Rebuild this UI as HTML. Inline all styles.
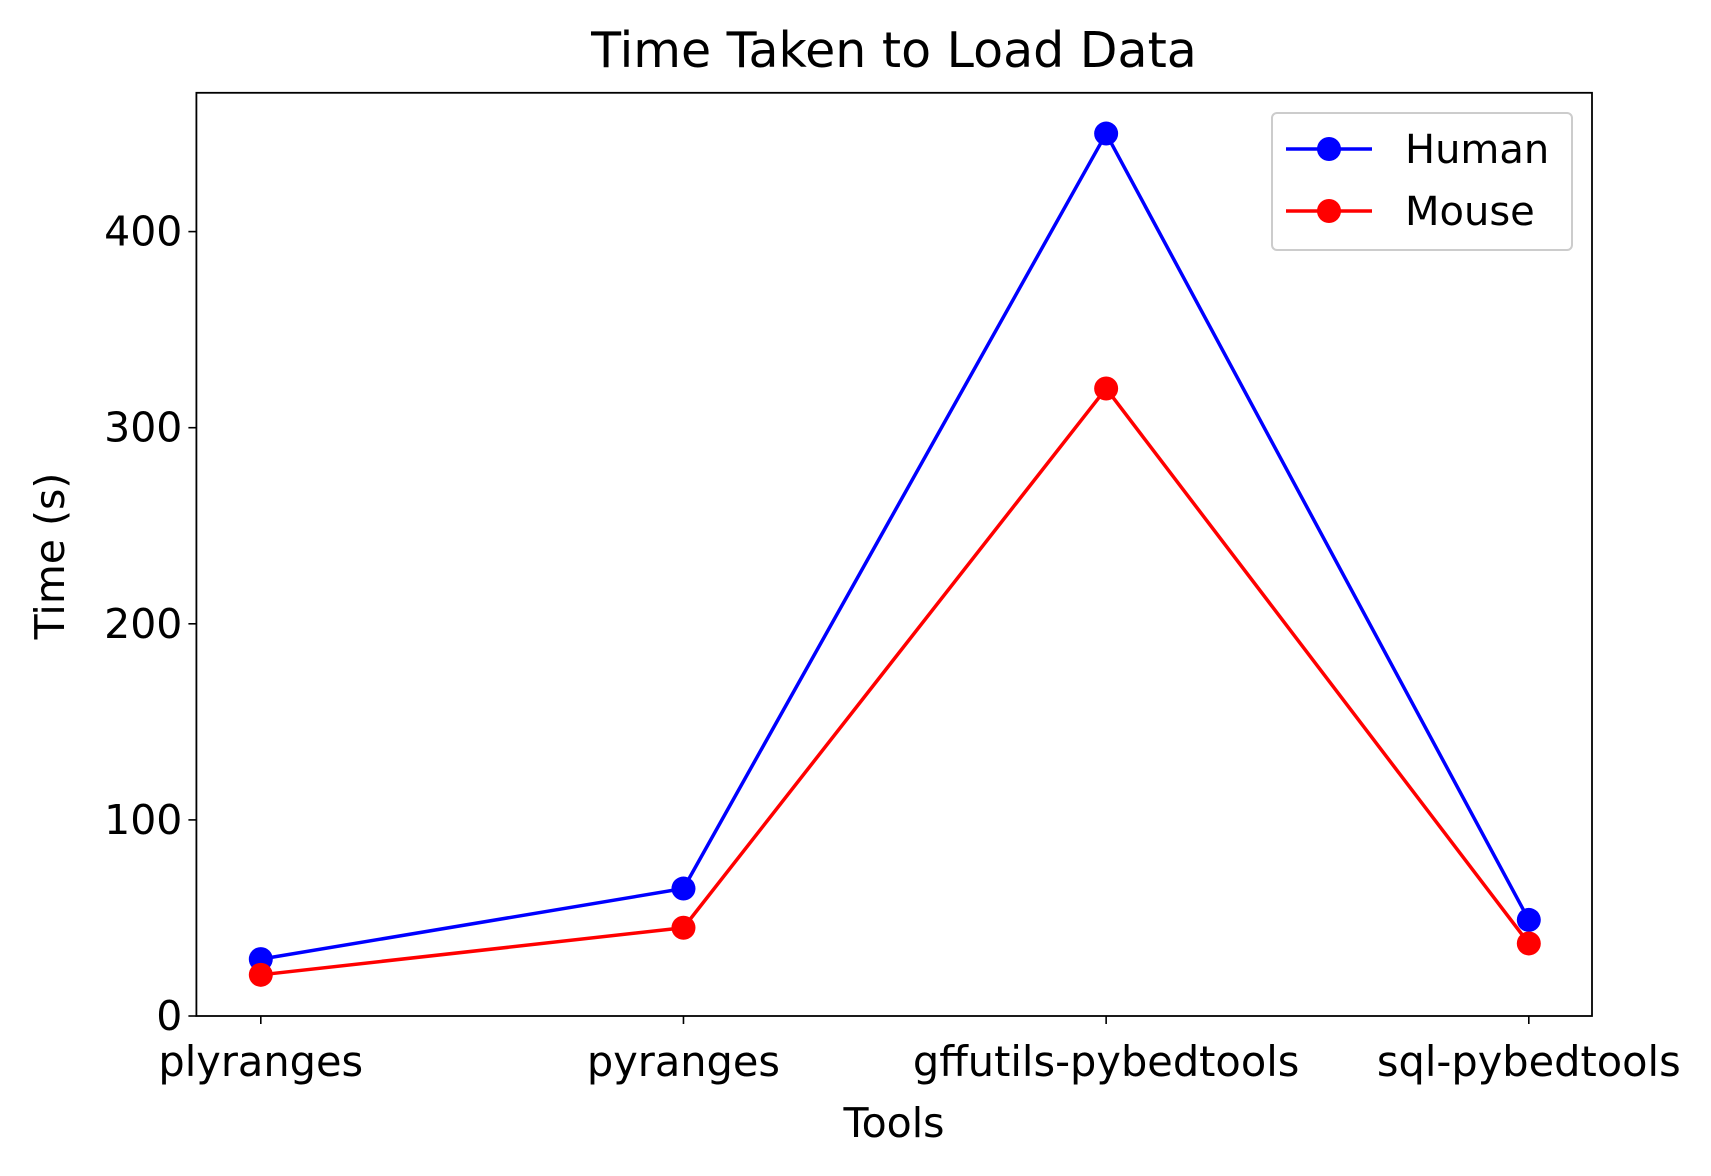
<!DOCTYPE html>
<html><head><meta charset="utf-8"><style>body{margin:0;background:#fff}svg{display:block;font-family:"DejaVu Sans","Liberation Sans",sans-serif}</style></head>
<body>
<svg id="chart" width="1711" height="1176" viewBox="0 0 1711 1176" xmlns="http://www.w3.org/2000/svg">
<rect width="1711" height="1176" fill="#fff"/>
<text x="894" y="67" font-size="49" text-anchor="middle">Time Taken to Load Data</text>
<g id="axes"></g>
<text x="894" y="1137" font-size="41" text-anchor="middle">Tools</text>
<text transform="translate(64,556) rotate(-90)" font-size="41" text-anchor="middle">Time (s)</text>
<g>
<rect x="1272" y="113" width="300" height="137" rx="5" fill="#fff" stroke="#ccc" stroke-width="2"/>
<g><line x1="1286" y1="149" x2="1372" y2="149" stroke="blue" stroke-width="3.5"/><circle cx="1329" cy="149" r="12" fill="blue"/><text x="1405" y="163" font-size="40">Human</text></g>
<g><line x1="1286" y1="211" x2="1372" y2="211" stroke="red" stroke-width="3.5"/><circle cx="1329" cy="211" r="12" fill="red"/><text x="1405" y="225" font-size="40">Mouse</text></g>
</g>
</svg>
<script>
const categories = ["plyranges","pyranges","gffutils-pybedtools","sql-pybedtools"];
const human = [29, 65, 450, 49];
const mouse = [21, 45, 320, 37];
const yTicks = [0, 100, 200, 300, 400];
const L=196.4,R=1592,T=92.8,B=1016;
const xS=i=>260.8+i*422.67;
const yS=v=>B-v*1.961;
const NS="http://www.w3.org/2000/svg";
const g=document.getElementById('axes');
function mk(t,a){const e=document.createElementNS(NS,t);for(const k in a)e.setAttribute(k,a[k]);g.appendChild(e);return e;}
yTicks.forEach(v=>{
  const t=mk('line',{x1:L-8,x2:L,y1:yS(v),y2:yS(v),stroke:'#000','stroke-width':1.6});
  
  
  const l=mk('text',{x:L-14,y:yS(v)+14,'font-size':41,'text-anchor':'end'});l.textContent=v;
  
  
});
categories.forEach((c,i)=>{
  const t=mk('line',{x1:xS(i),x2:xS(i),y1:B,y2:B+8,stroke:'#000','stroke-width':1.6});
  
  
  const l=mk('text',{x:xS(i),y:1076,'font-size':41.5,'text-anchor':'middle'});l.textContent=c;
  
  
});
[[human,'blue','human'],[mouse,'red','mouse']].forEach(([d,col,n])=>{
  const p=mk('polyline',{points:d.map((v,i)=>xS(i)+','+yS(v)).join(' '),fill:'none',stroke:col,'stroke-width':3.5,'stroke-linejoin':'round'});
  
  
  d.forEach((v,i)=>{
    const c=mk('circle',{cx:xS(i),cy:yS(v),r:12,fill:col});
    
    
  });
});
const f=mk('rect',{x:L,y:T,width:R-L,height:B-T,fill:'none',stroke:'#000','stroke-width':1.8});


</script>
</body></html>
